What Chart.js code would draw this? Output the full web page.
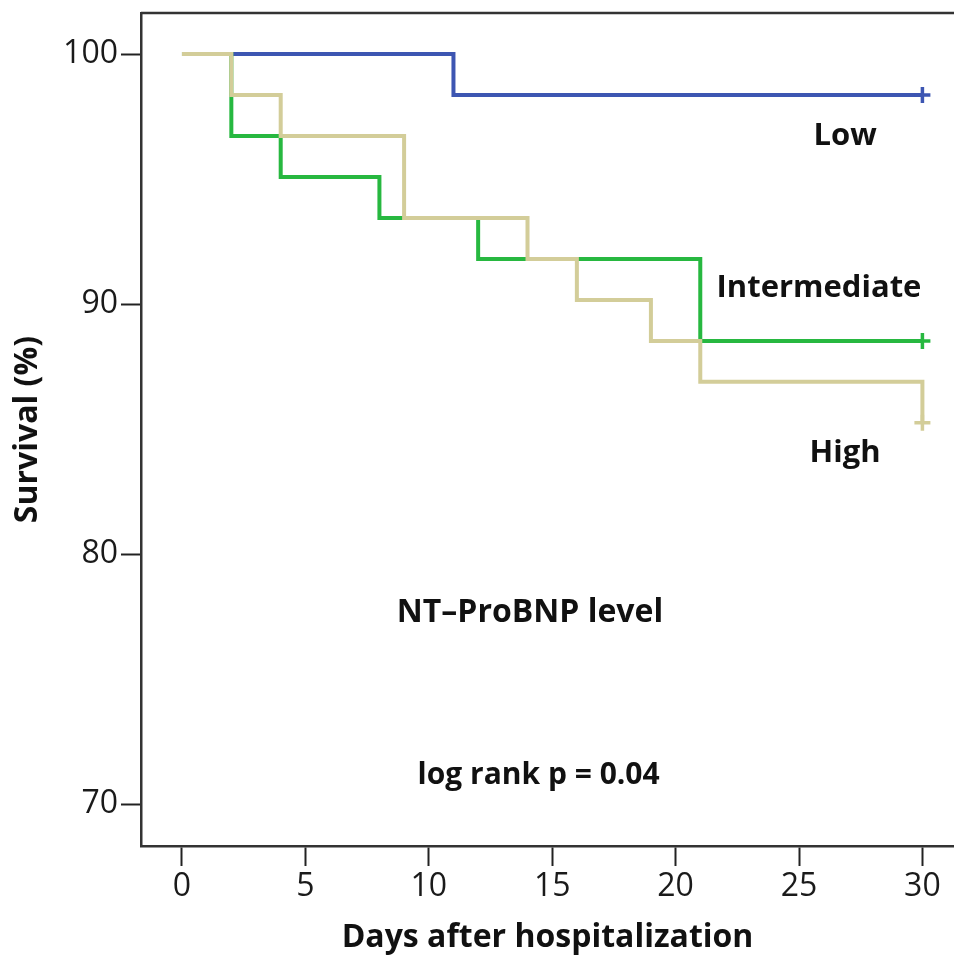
<!DOCTYPE html>
<html>
<head>
<meta charset="utf-8">
<script src="https://cdn.jsdelivr.net/npm/chart.js@4/dist/chart.umd.min.js"></script>
<style>
  html, body { margin: 0; padding: 0; background: #ffffff; overflow: hidden; }
  #wrap { width: 954px; height: 957px; }
</style>
</head>
<body>
<div id="wrap"><canvas id="c" width="954" height="957"></canvas></div>
<script>
// ---- data (Kaplan-Meier steps, survival %) ----
const lowDays  = [0, 11, 30];
const lowSurv  = [100, 98.36, 98.36];
const intDays  = [0, 2, 4, 8, 12, 21, 30];
const intSurv  = [100, 96.72, 95.08, 93.44, 91.80, 88.52, 88.52];
const highDays = [0, 2, 4, 9, 14, 16, 19, 21, 30];
const highSurv = [100, 98.36, 96.72, 93.44, 91.80, 90.16, 88.52, 86.89, 85.25];
const xTicks = [0, 5, 10, 15, 20, 25, 30];
const yTicks = [70, 80, 90, 100];
const seriesNames = ['Low', 'Intermediate', 'High'];

const toPts = (xs, ys) => xs.map((x, i) => ({ x: x, y: ys[i] }));

const textFont = '"Open Sans", "DejaVu Sans", sans-serif';

const labels = [
  { text: 'Low', x: 26.87, y: 96.36, size: 31 },
  { text: 'Intermediate', x: 25.81, y: 90.3, size: 31 },
  { text: 'High', x: 26.87, y: 83.7, size: 31 },
  { text: 'NT\u2013ProBNP level', x: 14.1, y: 77.3, size: 32 },
  { text: 'log rank p = 0.04', x: 14.45, y: 70.8, size: 30 }
];

const framePlugin = {
  id: 'frame',
  afterDraw(chart) {
    const { ctx, chartArea, scales } = chart;
    ctx.save();
    ctx.strokeStyle = '#333';
    ctx.lineWidth = 2.5;
    ctx.beginPath();
    ctx.moveTo(chartArea.left, chartArea.top);
    ctx.lineTo(chartArea.right + 5, chartArea.top);
    ctx.stroke();
    ctx.fillStyle = '#111';
    ctx.textAlign = 'center';
    ctx.textBaseline = 'alphabetic';
    labels.forEach(l => {
      ctx.font = 'bold ' + l.size + 'px ' + textFont;
      ctx.fillText(l.text, scales.x.getPixelForValue(l.x), scales.y.getPixelForValue(l.y));
    });
    ctx.restore();
  }
};

const noPad = (s) => { s.paddingLeft = 0; s.paddingRight = 0; s.paddingTop = 0; s.paddingBottom = 0; };

new Chart(document.getElementById('c'), {
  type: 'line',
  data: {
    datasets: [
      { label: seriesNames[0], data: toPts(lowDays, lowSurv), borderColor: '#3d56b2', order: 2 },
      { label: seriesNames[1], data: toPts(intDays, intSurv), borderColor: '#27b840', order: 1 },
      { label: seriesNames[2], data: toPts(highDays, highSurv), borderColor: '#d3cd99', order: 0 }
    ]
  },
  options: {
    responsive: false,
    animation: false,
    datasets: {
      line: {
        stepped: 'before',
        borderWidth: 4,
        fill: false,
        clip: false,
        pointStyle: 'cross',
        pointBorderWidth: 3.5,
        pointRadius: (ctx) => ctx.dataIndex === ctx.dataset.data.length - 1 ? 8 : 0,
        pointHoverRadius: 0,
        pointBorderColor: (ctx) => ctx.dataset.borderColor,
        pointBackgroundColor: (ctx) => ctx.dataset.borderColor
      }
    },
    layout: { autoPadding: false, padding: { top: 13, right: 0, bottom: 0, left: 0 } },
    plugins: {
      legend: { display: false },
      tooltip: { enabled: false },
      title: { display: false }
    },
    scales: {
      x: {
        type: 'linear',
        min: -1.66,
        max: 31.28,
        afterBuildTicks: (s) => { s.ticks = xTicks.map(v => ({ value: v })); },
        afterFit: (s) => { s.height = 111; noPad(s); },
        grid: {
          drawOnChartArea: false,
          drawTicks: true,
          tickLength: 20,
          tickColor: '#222',
          tickWidth: 2
        },
        border: { display: true, color: '#333', width: 2.5 },
        ticks: {
          color: '#1a1a1a',
          font: { family: textFont, size: 32 },
          padding: 2,
          maxRotation: 0,
          autoSkip: false
        },
        title: {
          display: true,
          text: 'Days after hospitalization',
          color: '#111',
          font: { family: textFont, size: 32, weight: 'bold' },
          padding: { top: 0, bottom: 0 }
        }
      },
      y: {
        type: 'linear',
        min: 68.33,
        max: 101.64,
        afterBuildTicks: (s) => { s.ticks = yTicks.map(v => ({ value: v })); },
        afterFit: (s) => { s.width = 141; noPad(s); },
        grid: {
          drawOnChartArea: false,
          drawTicks: true,
          tickLength: 20,
          tickColor: '#222',
          tickWidth: 2
        },
        border: { display: true, color: '#333', width: 2.5 },
        ticks: {
          color: '#1a1a1a',
          font: { family: textFont, size: 32 },
          padding: 3,
          autoSkip: false
        },
        title: {
          display: true,
          text: 'Survival (%)',
          color: '#111',
          font: { family: textFont, size: 32, weight: 'bold' },
          padding: { top: 9, bottom: 0 }
        }
      }
    }
  },
  plugins: [framePlugin]
});
</script>
</body>
</html>
